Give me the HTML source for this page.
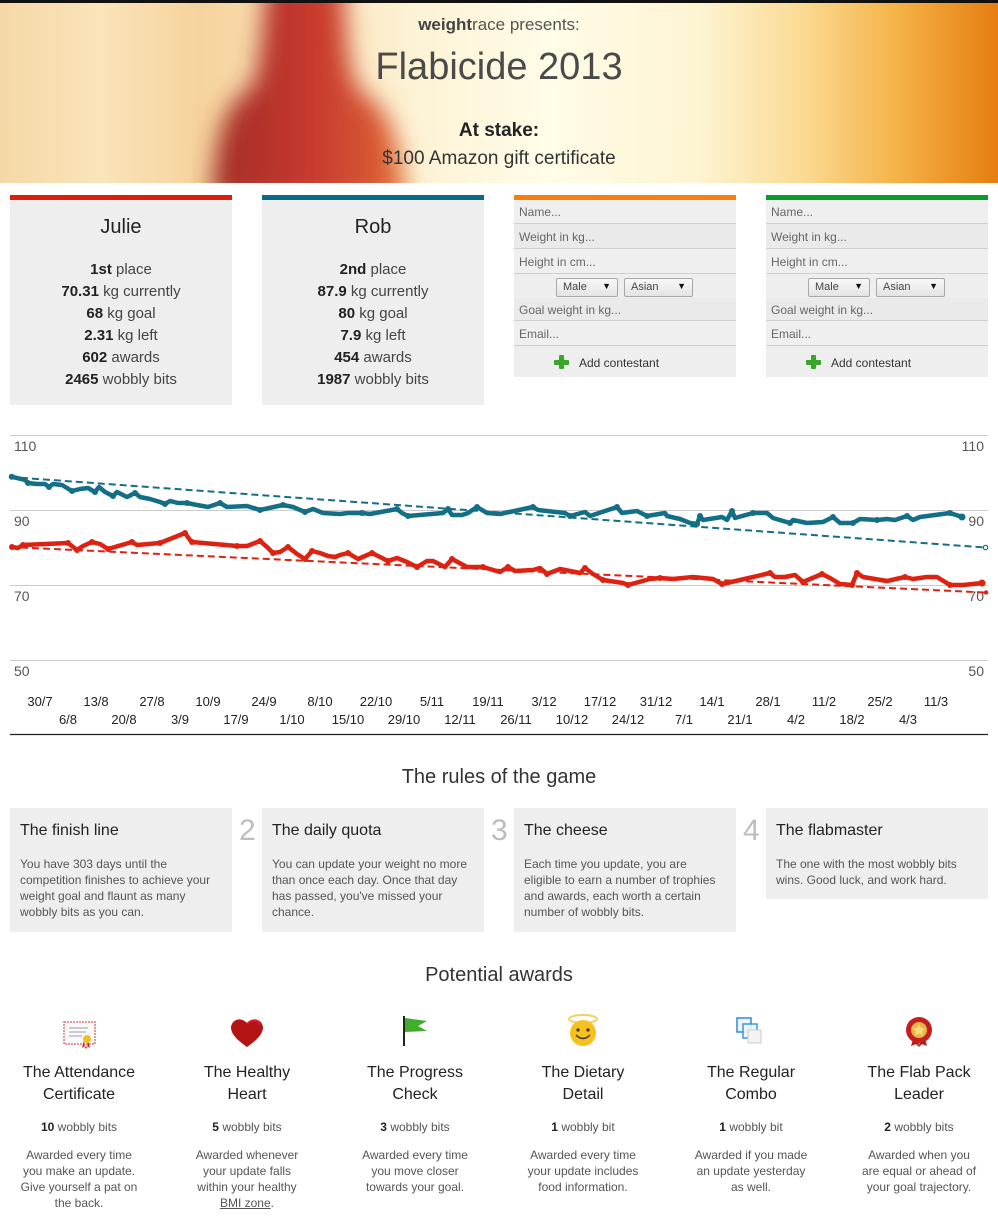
<!DOCTYPE html>
<html><head><meta charset="utf-8"><style>
*{margin:0;padding:0;box-sizing:border-box}
body{width:998px;height:1221px;position:relative;background:#fff;font-family:"Liberation Sans",sans-serif;color:#333;overflow:hidden}
.a{position:absolute;white-space:nowrap}
.c{position:absolute;text-align:center;white-space:nowrap}
.card{position:absolute;background:#eeeeee;width:222px}
.row{position:absolute;left:0;width:222px;font-size:12px;color:#666;padding-left:5px;border-bottom:1px solid #cfcfcf}
.sel{position:absolute;height:19px;border:1px solid #a8a8a8;border-radius:2px;background:linear-gradient(#f8f8f8,#e4e4e4);font-size:11px;color:#444;padding:2px 0 0 6px}
.sel b{position:absolute;right:6px;top:2px;font-size:9px;color:#111}
.stat{font-size:15px;color:#444;line-height:22px}
.stat b{color:#222}
.rbox{position:absolute;background:#eeeeee;width:222px;top:808px}
.rbox h3{position:absolute;left:10px;top:14px;font-size:16px;font-weight:normal;color:#222}
.rbox p{position:absolute;left:10px;top:48px;font-size:12px;line-height:16px;color:#555;white-space:nowrap}
.num{position:absolute;top:814px;font-size:30px;color:#bdbdbd}
.aw{position:absolute;width:168px;text-align:center;top:1062px}
.aw h4{font-size:16px;font-weight:normal;line-height:22px;color:#222}
.aw .pts{margin-top:13px;font-size:12px;color:#555;line-height:16px}
.aw .pts b{color:#222}
.aw p{margin-top:12px;font-size:12px;color:#555;line-height:16px}
</style></head><body>

<!-- header -->
<div class="a" style="left:0;top:0;width:998px;height:3px;background:#111"></div>
<svg class="a" style="left:0;top:3px" width="998" height="180">
<defs>
<linearGradient id="bg" x1="0" x2="1" y1="0" y2="0">
<stop offset="0" stop-color="#f5d8a6"/>
<stop offset="0.1" stop-color="#fae4ba"/>
<stop offset="0.2" stop-color="#f6d39e"/>
<stop offset="0.42" stop-color="#fdf3d6"/>
<stop offset="0.55" stop-color="#fffce8"/>
<stop offset="0.7" stop-color="#fdf4d2"/>
<stop offset="0.8" stop-color="#fbdc96"/>
<stop offset="0.9" stop-color="#f5b247"/>
<stop offset="1" stop-color="#e57d10"/>
</linearGradient>
<linearGradient id="fig" x1="0" x2="1" y1="0" y2="0">
<stop offset="0" stop-color="#a02c26"/>
<stop offset="0.5" stop-color="#c6392e"/>
<stop offset="0.85" stop-color="#d85833"/>
<stop offset="1" stop-color="#ea8a45"/>
</linearGradient>
<filter id="bl" x="-30%" y="-30%" width="160%" height="160%"><feGaussianBlur stdDeviation="12"/></filter>
</defs>
<rect width="998" height="180" fill="url(#bg)"/>
<g filter="url(#bl)">
<path d="M268,-30 L342,-30 C348,30 346,65 360,88 C395,108 402,150 408,200 L212,200 C214,140 222,100 252,84 C262,60 262,20 268,-30 Z" fill="url(#fig)"/>
</g>
</svg>
<div class="c" style="left:0;width:998px;top:15px;font-size:17px;color:#555"><b style="color:#444">weight</b>race presents:</div>
<div class="c" style="left:0;width:998px;top:46px;font-size:38px;color:#4a4a4a">Flabicide 2013</div>
<div class="c" style="left:0;width:998px;top:120px;font-size:19px;color:#222;font-weight:bold">At stake:</div>
<div class="c" style="left:0;width:998px;top:148px;font-size:19px;color:#333">$100 Amazon gift certificate</div>

<!-- contestant cards -->
<div class="card" style="left:10px;top:195px;height:210px;border-top:5px solid #dc1f0b">
  <div class="c" style="left:0;width:222px;top:16px;font-size:20px;color:#222">Julie</div>
  <div class="c stat" style="left:0;width:222px;top:59px">
    <b>1st</b> place<br><b>70.31</b> kg currently<br><b>68</b> kg goal<br><b>2.31</b> kg left<br><b>602</b> awards<br><b>2465</b> wobbly bits
  </div>
</div>
<div class="card" style="left:262px;top:195px;height:210px;border-top:5px solid #0c6b84">
  <div class="c" style="left:0;width:222px;top:16px;font-size:20px;color:#222">Rob</div>
  <div class="c stat" style="left:0;width:222px;top:59px">
    <b>2nd</b> place<br><b>87.9</b> kg currently<br><b>80</b> kg goal<br><b>7.9</b> kg left<br><b>454</b> awards<br><b>1987</b> wobbly bits
  </div>
</div>

<!-- forms -->
<div class="card" style="left:514px;top:195px;height:182px;border-top:5px solid #f77f0a">
  <div class="row" style="top:0;height:24px;line-height:25px;background:#efefef">Name...</div>
  <div class="row" style="top:24px;height:25px;line-height:26px;background:#eaeaea">Weight in kg...</div>
  <div class="row" style="top:49px;height:25px;line-height:26px;background:#efefef">Height in cm...</div>
  <div class="sel" style="left:42px;top:78px;width:62px">Male<b>▼</b></div>
  <div class="sel" style="left:110px;top:78px;width:69px">Asian<b>▼</b></div>
  <div class="row" style="top:98px;height:23px;line-height:24px;background:#eaeaea">Goal weight in kg...</div>
  <div class="row" style="top:121px;height:25px;line-height:26px;background:#efefef">Email...</div>
  <div class="a" style="left:40px;top:155px;width:14px;height:14px">
    <div class="a" style="left:5px;top:0;width:5px;height:14px;background:#3aa52a;border-radius:1px"></div>
    <div class="a" style="left:0;top:5px;width:15px;height:5px;background:#3aa52a;border-radius:1px"></div>
  </div>
  <div class="a" style="left:65px;top:156px;font-size:12px;color:#333">Add contestant</div>
</div>
<div class="card" style="left:766px;top:195px;height:182px;border-top:5px solid #0b9b2c">
  <div class="row" style="top:0;height:24px;line-height:25px;background:#efefef">Name...</div>
  <div class="row" style="top:24px;height:25px;line-height:26px;background:#eaeaea">Weight in kg...</div>
  <div class="row" style="top:49px;height:25px;line-height:26px;background:#efefef">Height in cm...</div>
  <div class="sel" style="left:42px;top:78px;width:62px">Male<b>▼</b></div>
  <div class="sel" style="left:110px;top:78px;width:69px">Asian<b>▼</b></div>
  <div class="row" style="top:98px;height:23px;line-height:24px;background:#eaeaea">Goal weight in kg...</div>
  <div class="row" style="top:121px;height:25px;line-height:26px;background:#efefef">Email...</div>
  <div class="a" style="left:40px;top:155px;width:14px;height:14px">
    <div class="a" style="left:5px;top:0;width:5px;height:14px;background:#3aa52a;border-radius:1px"></div>
    <div class="a" style="left:0;top:5px;width:15px;height:5px;background:#3aa52a;border-radius:1px"></div>
  </div>
  <div class="a" style="left:65px;top:156px;font-size:12px;color:#333">Add contestant</div>
</div>

<!-- chart -->
<svg class="a" style="left:0;top:420px" width="998" height="330" font-family="Liberation Sans, sans-serif">
<g transform="translate(0,-420)">
<g stroke="#cccccc" stroke-width="1">
<line x1="10" x2="988" y1="435.5" y2="435.5"/>
<line x1="10" x2="988" y1="510.5" y2="510.5"/>
<line x1="10" x2="988" y1="585.5" y2="585.5"/>
<line x1="10" x2="988" y1="660.5" y2="660.5"/>
</g>
<line x1="10" x2="988" y1="734.5" y2="734.5" stroke="#222" stroke-width="1.3"/>
<g font-size="14" fill="#555">
<text x="14" y="451">110</text><text x="14" y="526">90</text><text x="14" y="601">70</text><text x="14" y="676">50</text>
<g text-anchor="end"><text x="984" y="451">110</text><text x="984" y="526">90</text><text x="984" y="601">70</text><text x="984" y="676">50</text></g>
</g>
<g font-size="13" fill="#222" text-anchor="middle">
<text x="40" y="706">30/7</text><text x="96" y="706">13/8</text><text x="152" y="706">27/8</text><text x="208" y="706">10/9</text><text x="264" y="706">24/9</text><text x="320" y="706">8/10</text><text x="376" y="706">22/10</text><text x="432" y="706">5/11</text><text x="488" y="706">19/11</text><text x="544" y="706">3/12</text><text x="600" y="706">17/12</text><text x="656" y="706">31/12</text><text x="712" y="706">14/1</text><text x="768" y="706">28/1</text><text x="824" y="706">11/2</text><text x="880" y="706">25/2</text><text x="936" y="706">11/3</text>
<text x="68" y="724">6/8</text><text x="124" y="724">20/8</text><text x="180" y="724">3/9</text><text x="236" y="724">17/9</text><text x="292" y="724">1/10</text><text x="348" y="724">15/10</text><text x="404" y="724">29/10</text><text x="460" y="724">12/11</text><text x="516" y="724">26/11</text><text x="572" y="724">10/12</text><text x="628" y="724">24/12</text><text x="684" y="724">7/1</text><text x="740" y="724">21/1</text><text x="796" y="724">4/2</text><text x="852" y="724">18/2</text><text x="908" y="724">4/3</text>
</g>
<!-- trend lines -->
<line x1="10" y1="477" x2="985" y2="547.5" stroke="#126f86" stroke-width="2" stroke-dasharray="7,4"/>
<circle cx="985.5" cy="547.5" r="2.2" fill="#fff" stroke="#126f86" stroke-width="1.2"/>
<line x1="10" y1="547" x2="985" y2="592.5" stroke="#dd2211" stroke-width="2" stroke-dasharray="7,4"/>
<circle cx="986" cy="592.5" r="2.2" fill="#dd2211"/>
<!-- blue series -->
<polyline fill="none" stroke="#126f86" stroke-width="4.5" stroke-linejoin="round" stroke-linecap="round" points="11.7,476.7 25,480 28,483 37,484 45,484 49,487 53,484 62,485 72,491 80,489 88,488 95,492 99,487 105,492 113,496 117,492 127,497 135,493 140,497 150,499 160,502 165,504 170,501 178,503 187,503 197,505 208,507 220,503 227,507 247,506 260,510 283,505 293,507 305,512 313,509 323,513 340,514 348,513 362,513 370,514 397,509 402,513 408,516 443,513 448,509 452,515 462,515 468,513 477,507 487,513 500,514 533,507 538,510 565,513 570,516 585,512 590,516 617,507 622,513 637,511 647,516 665,513 667,516 680,519 690,523 697,524 700,516 703,520 722,517 727,520 732,511 735,518 753,513 767,513 773,518 790,523 793,520 807,523 823,522 833,517 840,523 853,523 860,519 877,520 887,519 895,520 907,516 913,520 920,517 950,513 962,517"/>
<!-- red series -->
<polyline fill="none" stroke="#dd2211" stroke-width="4.5" stroke-linejoin="round" stroke-linecap="round" points="12,547 18,548 23,545 68,543 77,550 83,546 92,542 100,544 108,549 132,542 137,545 160,543 185,533 190,540 192,542 237,546 247,546 260,541 267,547 273,553 280,552 288,547 297,554 305,559 312,551 320,553 328,556 335,557 340,555 348,553 358,559 372,553 388,561 397,558 407,562 417,567 427,561 433,561 445,567 452,559 467,567 483,567 500,572 508,567 515,571 533,570 540,568 547,574 560,569 570,571 580,573 585,568 593,574 603,580 623,583 628,585 650,579 660,578 673,579 693,577 713,579 722,584 727,583 770,573 775,577 785,577 795,575 803,582 822,574 830,578 840,584 852,585 857,573 863,577 887,581 905,577 913,579 927,577 937,577 950,585 963,585 973,584 982,583"/>
<g fill="#126f86">
<circle cx="11.7" cy="476.7" r="3"/><circle cx="28" cy="483" r="3"/><circle cx="49" cy="487" r="3"/><circle cx="72" cy="491" r="3"/><circle cx="95" cy="492" r="3"/><circle cx="113" cy="496" r="3"/><circle cx="135" cy="493" r="3"/><circle cx="165" cy="504" r="3"/><circle cx="187" cy="503" r="3"/><circle cx="220" cy="503" r="3"/><circle cx="260" cy="510" r="3"/><circle cx="283" cy="505" r="3"/><circle cx="305" cy="512" r="3"/><circle cx="362" cy="513" r="3"/><circle cx="397" cy="509" r="3"/><circle cx="408" cy="516" r="3"/><circle cx="448" cy="509" r="3"/><circle cx="477" cy="507" r="3"/><circle cx="533" cy="507" r="3"/><circle cx="570" cy="516" r="3"/><circle cx="617" cy="507" r="3"/><circle cx="647" cy="516" r="3"/><circle cx="697" cy="524" r="3"/><circle cx="700" cy="516" r="3"/><circle cx="732" cy="511" r="3"/><circle cx="753" cy="513" r="3"/><circle cx="790" cy="523" r="3"/><circle cx="833" cy="517" r="3"/><circle cx="853" cy="523" r="3"/><circle cx="877" cy="520" r="3"/><circle cx="907" cy="516" r="3"/><circle cx="950" cy="513" r="3"/><circle cx="962" cy="517" r="3.5"/>
</g>
<g fill="#dd2211">
<circle cx="12" cy="547" r="3"/><circle cx="23" cy="545" r="3"/><circle cx="68" cy="543" r="3"/><circle cx="77" cy="550" r="3"/><circle cx="92" cy="542" r="3"/><circle cx="108" cy="549" r="3"/><circle cx="132" cy="542" r="3"/><circle cx="160" cy="543" r="3"/><circle cx="185" cy="533" r="3"/><circle cx="192" cy="542" r="3"/><circle cx="237" cy="546" r="3"/><circle cx="260" cy="541" r="3"/><circle cx="273" cy="553" r="3"/><circle cx="288" cy="547" r="3"/><circle cx="305" cy="559" r="3"/><circle cx="312" cy="551" r="3"/><circle cx="348" cy="553" r="3"/><circle cx="372" cy="553" r="3"/><circle cx="388" cy="561" r="3"/><circle cx="417" cy="567" r="3"/><circle cx="452" cy="559" r="3"/><circle cx="483" cy="567" r="3"/><circle cx="508" cy="567" r="3"/><circle cx="547" cy="574" r="3"/><circle cx="585" cy="568" r="3"/><circle cx="603" cy="580" r="3"/><circle cx="628" cy="585" r="3"/><circle cx="660" cy="578" r="3"/><circle cx="722" cy="584" r="3"/><circle cx="770" cy="573" r="3"/><circle cx="803" cy="582" r="3"/><circle cx="822" cy="574" r="3"/><circle cx="852" cy="585" r="3"/><circle cx="857" cy="573" r="3"/><circle cx="905" cy="577" r="3"/><circle cx="950" cy="585" r="3"/><circle cx="982" cy="583" r="3.5"/>
</g>
</g>
</svg>

<!-- rules -->
<div class="c" style="left:0;width:998px;top:766px;font-size:20px;color:#333">The rules of the game</div>
<div class="rbox" style="left:10px;height:124px"><h3>The finish line</h3><p>You have 303 days until the<br>competition finishes to achieve your<br>weight goal and flaunt as many<br>wobbly bits as you can.</p></div>
<div class="num" style="left:239px">2</div>
<div class="rbox" style="left:262px;height:124px"><h3>The daily quota</h3><p>You can update your weight no more<br>than once each day. Once that day<br>has passed, you've missed your<br>chance.</p></div>
<div class="num" style="left:491px">3</div>
<div class="rbox" style="left:514px;height:124px"><h3>The cheese</h3><p>Each time you update, you are<br>eligible to earn a number of trophies<br>and awards, each worth a certain<br>number of wobbly bits.</p></div>
<div class="num" style="left:743px">4</div>
<div class="rbox" style="left:766px;height:91px"><h3>The flabmaster</h3><p>The one with the most wobbly bits<br>wins. Good luck, and work hard.</p></div>

<!-- awards -->
<div class="c" style="left:0;width:998px;top:964px;font-size:20px;color:#333">Potential awards</div>

<svg class="a" style="left:0;top:1010px" width="998" height="45">
<!-- certificate -->
<rect x="64" y="12" width="31" height="22" fill="#fafafa" stroke="#d77" stroke-width="1.5" stroke-dasharray="2,1"/>
<line x1="69" y1="18" x2="88" y2="18" stroke="#999" stroke-width="1"/>
<line x1="69" y1="22" x2="86" y2="22" stroke="#99b" stroke-width="1"/>
<line x1="69" y1="26" x2="82" y2="26" stroke="#99b" stroke-width="1"/>
<path d="M84,30 l-2,8 3,-2 2,3 1,-8z M88,30 l2,8 -3,-2 -2,3 -1,-8z" fill="#c22"/>
<circle cx="87" cy="29" r="4" fill="#f0c020"/>
<!-- heart -->
<path d="M247,37 C237,30 231,24 231,17 C232,10 240,6 247,13 C254,6 262,10 263,17 C263,24 257,30 247,37 Z" fill="#b51414"/>
<path d="M247,14 C251,9 258,9 260,15" stroke="#e24" stroke-width="2" fill="none" opacity="0.6"/>
<!-- flag -->
<rect x="403" y="6" width="2" height="30" fill="#222"/>
<path d="M405,8 L427,11 L418,16 L427,21 L405,22 Z" fill="#3fae2a"/>
<!-- smiley -->
<ellipse cx="583" cy="9" rx="14" ry="4" fill="none" stroke="#f3d060" stroke-width="2"/>
<circle cx="583" cy="23" r="13" fill="#f7c21f"/>
<circle cx="578" cy="20" r="1.6" fill="#333"/><circle cx="588" cy="20" r="1.6" fill="#333"/>
<path d="M576,25 Q583,32 590,25" stroke="#333" stroke-width="1.5" fill="none"/>
<!-- combo -->
<rect x="737" y="8" width="14" height="14" fill="#eef4fa" stroke="#2a8ce0" stroke-width="1.5"/>
<rect x="743" y="14" width="14" height="14" fill="#eef4fa" stroke="#2a8ce0" stroke-width="1.5" opacity="0.9"/>
<rect x="748" y="20" width="13" height="13" fill="#f3f3f3" stroke="#ccc" stroke-width="1"/>
<!-- rosette -->
<path d="M914,26 l-3,10 5,-2 3,3 1,-11z M924,26 l3,10 -5,-2 -3,3 -1,-11z" fill="#b41818"/>
<circle cx="919" cy="20" r="13" fill="#c41e1e"/>
<circle cx="919" cy="20" r="8" fill="#e6b84a"/>
<path d="M919,14 l2,4 4,0.5 -3,3 1,4 -4,-2 -4,2 1,-4 -3,-3 4,-0.5z" fill="#f6dc7a"/>
</svg>

<div class="aw" style="left:-5px"><h4>The Attendance<br>Certificate</h4><div class="pts"><b>10</b> wobbly bits</div><p>Awarded every time<br>you make an update.<br>Give yourself a pat on<br>the back.</p></div>
<div class="aw" style="left:163px"><h4>The Healthy<br>Heart</h4><div class="pts"><b>5</b> wobbly bits</div><p>Awarded whenever<br>your update falls<br>within your healthy<br><u>BMI zone</u>.</p></div>
<div class="aw" style="left:331px"><h4>The Progress<br>Check</h4><div class="pts"><b>3</b> wobbly bits</div><p>Awarded every time<br>you move closer<br>towards your goal.</p></div>
<div class="aw" style="left:499px"><h4>The Dietary<br>Detail</h4><div class="pts"><b>1</b> wobbly bit</div><p>Awarded every time<br>your update includes<br>food information.</p></div>
<div class="aw" style="left:667px"><h4>The Regular<br>Combo</h4><div class="pts"><b>1</b> wobbly bit</div><p>Awarded if you made<br>an update yesterday<br>as well.</p></div>
<div class="aw" style="left:835px"><h4>The Flab Pack<br>Leader</h4><div class="pts"><b>2</b> wobbly bits</div><p>Awarded when you<br>are equal or ahead of<br>your goal trajectory.</p></div>

</body></html>
